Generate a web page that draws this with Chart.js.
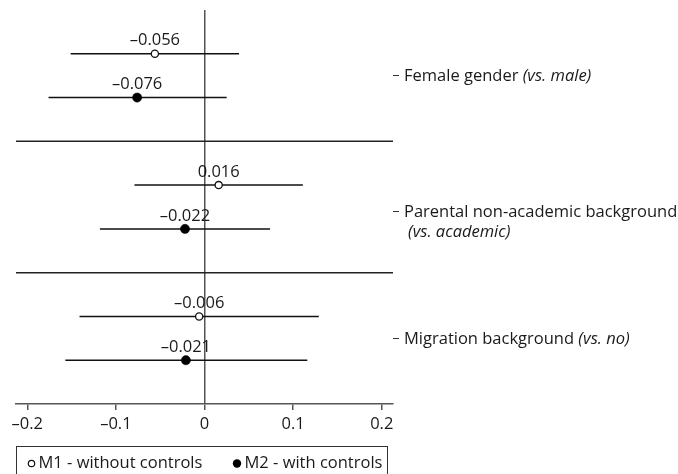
<!DOCTYPE html>
<html>
<head>
<meta charset="utf-8">
<script src="https://cdn.jsdelivr.net/npm/chart.js@4/dist/chart.umd.min.js"></script>
<style>
  html, body { margin: 0; padding: 0; background: #fff; }
  #wrap { width: 678px; height: 474px; position: relative; }
</style>
</head>
<body>
<div id="wrap"><canvas id="c" width="678" height="474"></canvas></div>
<script>
// ---- data ----
const categories = ['Female gender', 'Parental non-academic background', 'Migration background'];
const referenceNotes = ['(vs. male)', '(vs. academic)', '(vs. no)'];
const labelWraps = [false, true, false];

const seriesNames = ['M1 - without controls', 'M2 - with controls'];
const m1Estimate = [-0.056, 0.016, -0.006];
const m1Lower    = [-0.151, -0.079, -0.141];
const m1Upper    = [0.039, 0.111, 0.129];
const m2Estimate = [-0.076, -0.022, -0.021];
const m2Lower    = [-0.176, -0.118, -0.157];
const m2Upper    = [0.025, 0.074, 0.116];

const m1Rows = [1, 4, 7];
const m2Rows = [2, 5, 8];
const separatorRows = [3, 6];
const categoryRows = [1.5, 4.6, 7.5];
const xTicks = [-0.2, -0.1, 0, 0.1, 0.2];

const FONT = '"Open Sans", "Noto Sans", sans-serif';
const FS = 16.5;
const X_MIN = -0.2127, X_MAX = 0.2127;

function fmt(v) {
  return (v < 0 ? '\u2013' : '') + Math.abs(v).toFixed(3);
}
function fmtTick(v) {
  if (Math.abs(v) < 1e-9) return '0';
  return (v < 0 ? '\u2013' : '') + Math.abs(v).toFixed(1);
}

const datasets = [];
function addCI(lo, hi, rows) {
  for (let i = 0; i < lo.length; i++) {
    datasets.push({
      type: 'line', data: [{x: lo[i], y: rows[i]}, {x: hi[i], y: rows[i]}],
      borderColor: '#111', borderWidth: 1.5, pointRadius: 0, showLine: true,
      order: 2, isAux: true
    });
  }
}
addCI(m1Lower, m1Upper, m1Rows);
addCI(m2Lower, m2Upper, m2Rows);
separatorRows.forEach(r => {
  datasets.push({
    type: 'line', data: [{x: X_MIN, y: r}, {x: X_MAX, y: r}],
    borderColor: '#222', borderWidth: 1.5, pointRadius: 0, showLine: true,
    order: 2, isAux: true
  });
});
datasets.push({
  label: seriesNames[0], type: 'scatter',
  data: m1Estimate.map((v, i) => ({x: v, y: m1Rows[i]})),
  pointStyle: 'circle', pointRadius: 3.6, pointBackgroundColor: '#fff',
  pointBorderColor: '#111', pointBorderWidth: 1.3, order: 0, isPoint: true, hollow: true
});
datasets.push({
  label: seriesNames[1], type: 'scatter',
  data: m2Estimate.map((v, i) => ({x: v, y: m2Rows[i]})),
  pointStyle: 'circle', pointRadius: 4.6, pointBackgroundColor: '#000',
  pointBorderColor: '#000', pointBorderWidth: 0.5, order: 0, isPoint: true, hollow: false
});

const valueLabels = {
  id: 'valueLabels',
  afterDatasetsDraw(chart) {
    const ctx = chart.ctx;
    ctx.save();
    ctx.font = FS + 'px ' + FONT;
    ctx.fillStyle = '#1a1a1a';
    ctx.textAlign = 'center';
    ctx.textBaseline = 'middle';
    chart.data.datasets.forEach((ds, di) => {
      if (!ds.isPoint) return;
      const meta = chart.getDatasetMeta(di);
      meta.data.forEach((pt, i) => {
        ctx.fillText(fmt(ds.data[i].x), pt.x, pt.y - 13);
      });
    });
    ctx.restore();
  }
};

const rightLabels = {
  id: 'rightLabels',
  afterDraw(chart) {
    const ctx = chart.ctx;
    const ys = chart.scales.y;
    const x0 = chart.chartArea.right + 11;
    ctx.save();
    ctx.fillStyle = '#1a1a1a';
    ctx.textAlign = 'left';
    ctx.textBaseline = 'middle';
    categories.forEach((c, i) => {
      const y = ys.getPixelForValue(categoryRows[i]) + 1;
      ctx.font = FS + 'px ' + FONT;
      ctx.fillText(c, x0, y);
      if (labelWraps[i]) {
        ctx.font = 'italic ' + FS + 'px ' + FONT;
        ctx.fillText(referenceNotes[i], x0 + 4, y + 20);
      } else {
        const w = ctx.measureText(c + ' ').width;
        ctx.font = 'italic ' + FS + 'px ' + FONT;
        ctx.fillText(referenceNotes[i], x0 + w, y);
      }
    });
    ctx.restore();
  }
};

const boxLegend = {
  id: 'boxLegend',
  afterDraw(chart) {
    const ctx = chart.ctx;
    const ca = chart.chartArea;
    const left = ca.left + 0.5, right = ca.right - 5.5, top = ca.bottom + 42.5;
    ctx.save();
    ctx.strokeStyle = '#333';
    ctx.lineWidth = 1;
    ctx.strokeRect(left, top, right - left, 40);
    const cy = top + 17;
    ctx.font = FS + 'px ' + FONT;
    ctx.textBaseline = 'middle';
    ctx.textAlign = 'left';
    ctx.beginPath();
    ctx.arc(left + 15, cy, 3.2, 0, Math.PI * 2);
    ctx.fillStyle = '#fff'; ctx.fill();
    ctx.strokeStyle = '#111'; ctx.lineWidth = 1.2; ctx.stroke();
    ctx.fillStyle = '#1a1a1a';
    ctx.fillText(chart.data.datasets.find(d => d.hollow === true).label, left + 22, cy);
    ctx.beginPath();
    ctx.arc(left + 220.5, cy, 4.2, 0, Math.PI * 2);
    ctx.fillStyle = '#000'; ctx.fill();
    ctx.fillStyle = '#1a1a1a';
    ctx.fillText(chart.data.datasets.find(d => d.hollow === false).label, left + 228, cy);
    ctx.restore();
  }
};

new Chart(document.getElementById('c'), {
  type: 'scatter',
  data: { datasets },
  options: {
    responsive: false,
    animation: false,
    layout: { padding: { left: 16, top: 10, right: 0, bottom: 0 } },
    plugins: { legend: { display: false }, tooltip: { enabled: false } },
    scales: {
      x: {
        type: 'linear', min: X_MIN, max: X_MAX,
        afterBuildTicks(s) { s.ticks = xTicks.map(v => ({value: v})); },
        afterFit(s) { s.height = 70; },
        ticks: { callback: v => fmtTick(v), color: '#1a1a1a', font: { family: FONT, size: FS }, padding: 4, maxRotation: 0, autoSkip: false },
        grid: {
          color: c => (c.tick && Math.abs(c.tick.value) < 1e-9) ? '#555' : 'rgba(0,0,0,0)',
          lineWidth: 1.5, tickColor: '#555', tickLength: 6, drawTicks: true
        },
        border: { display: true, color: '#555', width: 1.5 }
      },
      y: {
        type: 'linear', position: 'right', reverse: true, min: 0, max: 9,
        afterBuildTicks(s) { s.ticks = categoryRows.map(v => ({value: v})); },
        afterFit(s) { s.width = 285; },
        ticks: { callback: () => '', padding: 0 },
        grid: { drawOnChartArea: false, tickColor: '#333', tickLength: 6, lineWidth: 1 },
        border: { display: false }
      }
    }
  },
  plugins: [valueLabels, rightLabels, boxLegend]
});
</script>
</body>
</html>
